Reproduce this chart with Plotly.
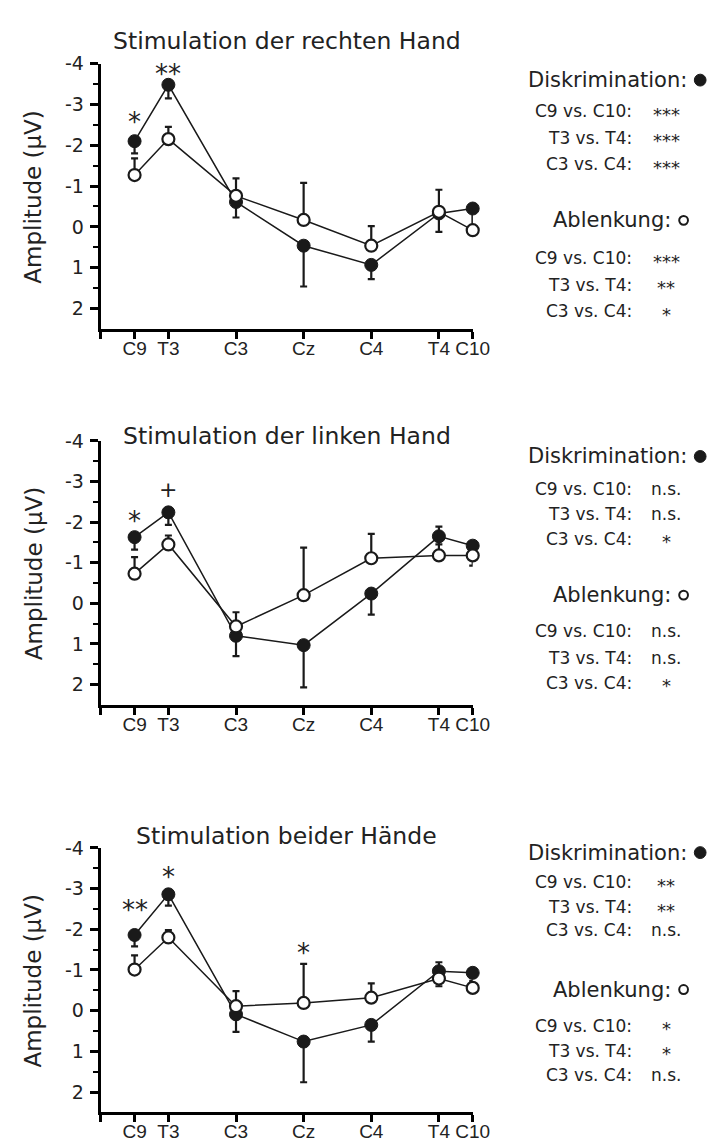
import plotly.graph_objects as go

W, H = 717, 1142

# ---------------- data ----------------
electrodes = ["C9", "T3", "C3", "Cz", "C4", "T4", "C10"]
electrode_pos = [1, 2, 4, 6, 8, 10, 11]

titles = ["Stimulation der rechten Hand", "Stimulation der linken Hand", "Stimulation beider Hände"]

# Panel 1: rechte Hand
disk_right = [-2.10, -3.48, -0.61, 0.46, 0.93, -0.33, -0.45]
disk_right_err = [0.30, 0.33, 0.38, 1.00, 0.35, 0.45, 0.50]
abl_right = [-1.27, -2.15, -0.76, -0.17, 0.46, -0.37, 0.08]
abl_right_err = [0.41, 0.30, 0.43, 0.91, 0.48, 0.54, 0.50]

# Panel 2: linke Hand
disk_left = [-1.63, -2.24, 0.80, 1.03, -0.24, -1.65, -1.42]
disk_left_err = [0.31, 0.31, 0.50, 1.04, 0.52, 0.20, 0.49]
abl_left = [-0.73, -1.45, 0.57, -0.20, -1.11, -1.18, -1.18]
abl_left_err = [0.41, 0.22, 0.35, 1.17, 0.60, 0.71, 0.10]

# Panel 3: beide Hände
disk_both = [-1.86, -2.86, 0.09, 0.76, 0.35, -0.97, -0.93]
disk_both_err = [0.28, 0.28, 0.43, 1.00, 0.41, 0.37, 0.20]
abl_both = [-1.01, -1.80, -0.11, -0.19, -0.32, -0.79, -0.56]
abl_both_err = [0.35, 0.18, 0.37, 0.96, 0.35, 0.40, 0.10]

# significance markers above points: (text, electrode, y-value)
sig_right = [("*", "C9", -2.73), ("**", "T3", -3.92)]
sig_left = [("*", "C9", -2.20), ("+", "T3", -2.80)]
sig_both = [("**", "C9", -2.65), ("*", "T3", -3.45), ("*", "Cz", -1.58)]

# hemisphere comparison tables
cmp_labels = ["C9 vs. C10:", "T3 vs. T4:", "C3 vs. C4:"]
disk_sig_right = ["***", "***", "***"]
abl_sig_right = ["***", "**", "*"]
disk_sig_left = ["n.s.", "n.s.", "*"]
abl_sig_left = ["n.s.", "n.s.", "*"]
disk_sig_both = ["**", "**", "n.s."]
abl_sig_both = ["*", "*", "n.s."]

y_tickvals = [-4, -3, -2, -1, 0, 1, 2]
y_ticktext = ["-4", "-3", "-2", "-1", "0", "1", "2"]
y_minor = [-3.5, -2.5, -1.5, -0.5, 0.5, 1.5]

# ---------------- layout geometry (pixels) ----------------
FONT = "DejaVu Sans"
XFONT = "Liberation Sans Narrow, Arial Narrow, Liberation Sans, Arial, sans-serif"
X_LEFT, X_RIGHT = 95, 476
panels = [
    dict(top=45, bottom=313, title_y=22, disk=disk_right, de=disk_right_err, abl=abl_right, ae=abl_right_err,
         sig=sig_right, dsig=disk_sig_right, asig=abl_sig_right,
         head1=61.7, rows1=[93.3, 120.0, 146.7], head2=203.3, rows2=[241.7, 268.3, 295.0]),
    dict(top=426, bottom=692.5, title_y=421, disk=disk_left, de=disk_left_err, abl=abl_left, ae=abl_left_err,
         sig=sig_left, dsig=disk_sig_left, asig=abl_sig_left,
         head1=441.7, rows1=[475.0, 500.0, 525.0], head2=581.7, rows2=[618.3, 645.0, 670.0]),
    dict(top=837, bottom=1104, title_y=825, disk=disk_both, de=disk_both_err, abl=abl_both, ae=abl_both_err,
         sig=sig_both, dsig=disk_sig_both, asig=abl_sig_both,
         head1=841.7, rows1=[871.7, 896.7, 920.0], head2=980.0, rows2=[1016.7, 1041.7, 1066.7]),
]


def px(x):
    return x / W


def py(y):
    return 1 - y / H


fig = go.Figure()
annotations = []
shapes = []
LINE = "#1a1a1a"
TXT = "#222"

for i, p in enumerate(panels):
    sfx = "" if i == 0 else str(i + 1)
    xa, ya = "x" + sfx, "y" + sfx
    # Diskrimination (filled), error toward positive values (down)
    fig.add_trace(go.Scatter(
        x=electrode_pos, y=p["disk"], xaxis=xa, yaxis=ya, mode="lines+markers",
        line=dict(color=LINE, width=1.5),
        marker=dict(size=13, color=LINE, line=dict(color=LINE, width=1)),
        error_y=dict(type="data", symmetric=False, array=p["de"], arrayminus=[0] * 7,
                     color=LINE, thickness=2.2, width=3.5),
        showlegend=False, cliponaxis=False))
    # Ablenkung (open), error toward negative values (up)
    fig.add_trace(go.Scatter(
        x=electrode_pos, y=p["abl"], xaxis=xa, yaxis=ya, mode="lines+markers",
        line=dict(color=LINE, width=1.5),
        marker=dict(size=12, color="white", line=dict(color=LINE, width=2.2)),
        error_y=dict(type="data", symmetric=False, array=[0] * 7, arrayminus=p["ae"],
                     color=LINE, thickness=2.2, width=3.5),
        showlegend=False, cliponaxis=False))

    dom_y = [py(p["bottom"]), py(p["top"])]
    fig.update_layout(**{
        "xaxis" + sfx: dict(
            domain=[px(X_LEFT), px(X_RIGHT)], range=[0, 11], anchor=ya,
            showline=True, linewidth=3, linecolor="black", showgrid=False, zeroline=False,
            tickmode="array", tickvals=[0] + electrode_pos, ticktext=[""] + electrodes,
            ticks="outside", ticklen=7, tickwidth=2.5, tickcolor="black",
            ticklabelstandoff=-7,
            tickfont=dict(family=XFONT, size=19, color=TXT),
        ),
        "yaxis" + sfx: dict(
            domain=dom_y, range=[2.5, -4], anchor=xa,
            showline=True, linewidth=3, linecolor="black", showgrid=False, zeroline=False,
            tickmode="array", tickvals=y_tickvals, ticktext=y_ticktext,
            ticks="outside", ticklen=8, tickwidth=2.5, tickcolor="black",
            ticklabelstandoff=2,
            minor=dict(tickvals=y_minor, ticks="outside", ticklen=5, tickwidth=2, tickcolor="black"),
            tickfont=dict(family=FONT, size=19, color=TXT),
        ),
    })

    # title
    annotations.append(dict(text=titles[i], xref="paper", yref="paper",
                            x=px((X_LEFT + X_RIGHT) / 2), y=py(p["title_y"]),
                            xanchor="center", yanchor="middle", showarrow=False,
                            font=dict(family=FONT, size=23.5, color=TXT)))
    # y-axis title
    annotations.append(dict(text="Amplitude (µV)", xref="paper", yref="paper",
                            x=px(26), y=py((p["top"] + p["bottom"]) / 2),
                            xanchor="center", yanchor="middle", textangle=-90, showarrow=False,
                            font=dict(family=FONT, size=23, color=TXT)))
    # significance markers above the points
    for txt, el, yv in p["sig"]:
        annotations.append(dict(text=txt, xref=xa, yref=ya,
                                x=electrode_pos[electrodes.index(el)], y=yv,
                                xanchor="center", yanchor="middle", showarrow=False,
                                yshift=-7 if "*" in txt else 0,
                                font=dict(family=FONT, size=26 if "*" in txt else 22, color=TXT)))

    # right-hand tables
    annotations.append(dict(text="Diskrimination:", xref="paper", yref="paper",
                            x=px(698), y=py(p["head1"]), xanchor="right", yanchor="middle",
                            showarrow=False, font=dict(family=FONT, size=21, color=TXT)))
    annotations.append(dict(text="Ablenkung:", xref="paper", yref="paper",
                            x=px(681), y=py(p["head2"]), xanchor="right", yanchor="middle",
                            showarrow=False, font=dict(family=FONT, size=21, color=TXT)))
    # symbols
    shapes.append(dict(type="circle", xref="paper", yref="paper",
                       x0=px(703), x1=px(715), y0=py(p["head1"] + 6), y1=py(p["head1"] - 6),
                       fillcolor=LINE, line=dict(color=LINE, width=1)))
    shapes.append(dict(type="circle", xref="paper", yref="paper",
                       x0=px(687.5), x1=px(696.5), y0=py(p["head2"] + 4.5), y1=py(p["head2"] - 4.5),
                       fillcolor="white", line=dict(color=LINE, width=2)))
    for rows, sigs in ((p["rows1"], p["dsig"]), (p["rows2"], p["asig"])):
        for lab, sig, yy in zip(cmp_labels, sigs, rows):
            annotations.append(dict(text=lab, xref="paper", yref="paper",
                                    x=px(641), y=py(yy), xanchor="right", yanchor="middle",
                                    showarrow=False, font=dict(family=FONT, size=17, color=TXT)))
            star = "*" in sig
            annotations.append(dict(text=sig, xref="paper", yref="paper",
                                    x=px(674), y=py(yy), xanchor="center", yanchor="middle",
                                    showarrow=False, yshift=-3 if star else 0,
                                    font=dict(family=FONT, size=18 if star else 17, color=TXT)))

fig.update_layout(
    width=W, height=H, margin=dict(l=0, r=0, t=0, b=0),
    paper_bgcolor="white", plot_bgcolor="white",
    annotations=annotations, shapes=shapes, showlegend=False,
)

fig.write_html("out.html")
